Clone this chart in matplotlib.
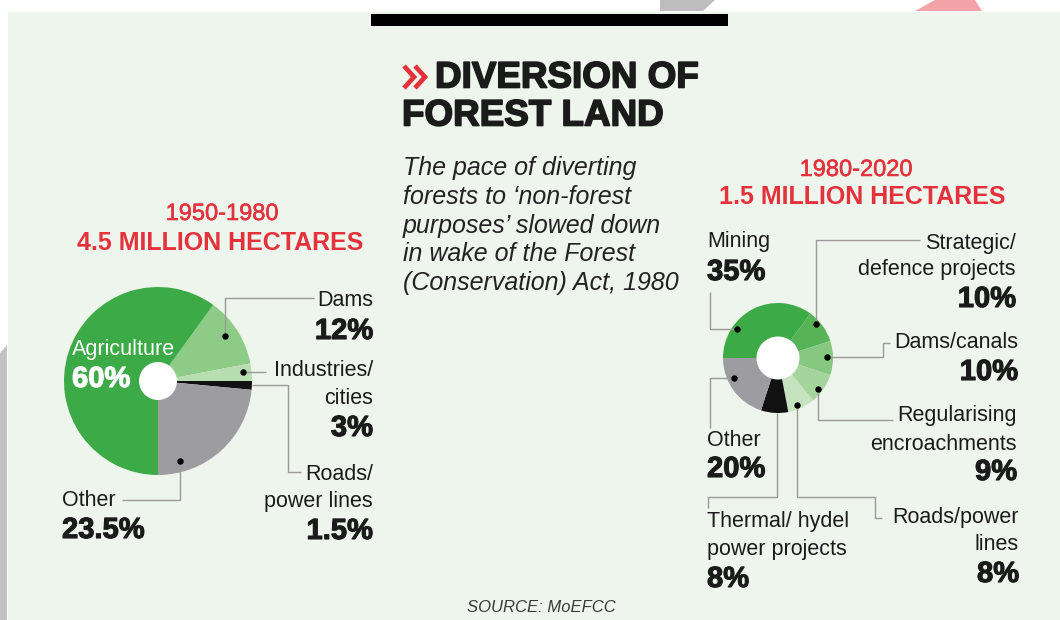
import matplotlib
matplotlib.use("Agg")
import matplotlib.pyplot as plt
from matplotlib import font_manager as fm
from matplotlib.patches import Circle, Polygon, Rectangle
import matplotlib.patheffects as pe
import numpy as np

# ---------------- data ----------------
cats1 = ["Dams", "Industries/\ncities", "Roads/\npower lines", "Other", "Agriculture"]
vals1 = [12, 3, 1.5, 23.5, 60]
pct1 = ["12%", "3%", "1.5%", "23.5%", "60%"]

cats2 = ["Mining", "Strategic/\ndefence projects", "Dams/canals", "Regularising\nencroachments",
         "Roads/power\nlines", "Thermal/ hydel\npower projects", "Other"]
vals2 = [35, 10, 10, 9, 8, 8, 20]
pct2 = ["35%", "10%", "10%", "9%", "8%", "8%", "20%"]

period1 = "1950-1980"
total1 = "4.5 MILLION HECTARES"
period2 = "1980-2020"
total2 = "1.5 MILLION HECTARES"

# ---------------- styling ----------------
names = {f.name for f in fm.fontManager.ttflist}
REG = "Liberation Sans" if "Liberation Sans" in names else "DejaVu Sans"

BG = "#eef5ec"
RED = "#e3323c"
INK = "#1b1b1b"
LINE = "#9a9a9a"
colors1 = ["#8ecb86", "#b8ddb0", "#111111", "#9d9da1", "#3daa48"]
colors2 = ["#3daa48", "#56b457", "#86c880", "#a4d59d", "#c6e3c0", "#111111", "#9d9da1"]

W, H = 1060, 620
fig = plt.figure(figsize=(W / 100, H / 100), dpi=100)
fig.patch.set_facecolor("white")
ax = fig.add_axes([0, 0, 1, 1])


def Y(y):
    return H - y


def thick(color, w=0.7):
    return [pe.withStroke(linewidth=w, foreground=color)]


# background panel + decorations
ax.add_patch(Rectangle((8, 0), W - 8, H - 12, facecolor=BG, edgecolor="none", zorder=0))
ax.add_patch(Polygon([(0, Y(353)), (7, Y(345)), (7, 0), (0, 0)], closed=True,
                     facecolor="#c2c2c2", edgecolor="none", zorder=0))
ax.add_patch(Polygon([(660, Y(0)), (715, Y(0)), (703, Y(11)), (660, Y(11))], closed=True,
                     facecolor="#bdbdbd", edgecolor="none", zorder=0))
ax.add_patch(Polygon([(935, Y(0)), (975, Y(0)), (982, Y(11)), (915, Y(11))], closed=True,
                     facecolor="#f3a3a8", edgecolor="none", zorder=0))
ax.add_patch(Rectangle((371, Y(26)), 357, 12, facecolor="black", edgecolor="none", zorder=1))

# ---------------- title ----------------
for dx in (0, 11):
    ax.plot([404 + dx, 414 + dx, 404 + dx], [Y(66), Y(77), Y(88)], color=RED, lw=3.4,
            solid_joinstyle="miter", solid_capstyle="butt", zorder=3)
ax.text(435, Y(78), "DIVERSION OF", family=REG, fontweight="bold", fontsize=26.5,
        color=INK, ha="left", va="center", path_effects=thick(INK, 1.2))
ax.text(402, Y(116), "FOREST LAND", family=REG, fontweight="bold", fontsize=26.5,
        color=INK, ha="left", va="center", path_effects=thick(INK, 1.2))

para = ["The pace of diverting", "forests to \u2018non-forest", "purposes\u2019 slowed down",
        "in wake of the Forest", "(Conservation) Act, 1980"]
for i, line in enumerate(para):
    ax.text(403, Y(168 + 28.8 * i), line, family=REG, style="italic", fontsize=18,
            color="#222222", ha="left", va="center")

ax.text(541, Y(607), "SOURCE: MoEFCC", family=REG, style="italic", fontsize=12,
        color="#3a3a3a", ha="center", va="center")

# ---------------- period headings ----------------
ax.text(222, Y(214), period1, family=REG, fontsize=17, color=RED, ha="center", va="center",
        path_effects=thick(RED, 0.4))
ax.text(220, Y(243), total1, family=REG, fontweight="bold", fontsize=18, color=RED,
        ha="center", va="center")
ax.text(856, Y(170), period2, family=REG, fontsize=17, color=RED, ha="center", va="center",
        path_effects=thick(RED, 0.4))
ax.text(862, Y(197), total2, family=REG, fontweight="bold", fontsize=18, color=RED,
        ha="center", va="center")

# ---------------- pies ----------------
C1, R1, HOLE1, START1 = (158, Y(381)), 94, 19, 54
C2, R2, HOLE2, START2 = (778, Y(358)), 55, 21.5, 180

ax.pie(vals1, colors=colors1, startangle=START1, counterclock=False, radius=R1, center=C1,
       frame=True, wedgeprops=dict(linewidth=0))
ax.add_patch(Circle(C1, HOLE1, facecolor="white", edgecolor="none", zorder=5))
ax.pie(vals2, colors=colors2, startangle=START2, counterclock=False, radius=R2, center=C2,
       frame=True, wedgeprops=dict(linewidth=0))
ax.add_patch(Circle(C2, HOLE2, facecolor="white", edgecolor="none", zorder=5))


def anchor(vals, start, center, radius, idx, frac, rfrac):
    tot = float(sum(vals))
    before = sum(vals[:idx]) / tot * 360.0
    span = vals[idx] / tot * 360.0
    ang = np.deg2rad(start - before - frac * span)
    x = center[0] + rfrac * radius * np.cos(ang)
    y = center[1] + rfrac * radius * np.sin(ang)
    return x, H - y  # image coordinates


def leader(p0, path, dot=True):
    xs, ys = [p0[0]], [p0[1]]
    for px, py in path:
        xs.append(xs[-1] if px is None else px)
        ys.append(ys[-1] if py is None else py)
    ax.plot(xs, [Y(v) for v in ys], color=LINE, lw=1.0, zorder=6, solid_capstyle="butt")
    if dot:
        ax.plot([p0[0]], [Y(p0[1])], "o", color="black", ms=3.6, zorder=7)


def label(x, ys, cat, pct, ha, name_color=INK, pct_size=21, name_size=15.5):
    lines = cat.split("\n")
    for yy, ln in zip(ys[:-1], lines):
        ax.text(x, Y(yy), ln, family=REG, fontsize=name_size, color=name_color,
                ha=ha, va="center")
    ax.text(x, Y(ys[-1]), pct, family=REG, fontweight="bold", fontsize=pct_size,
            color=name_color, ha=ha, va="center", path_effects=thick(name_color, 0.8))


# pie 1 leaders
leader(anchor(vals1, START1, C1, R1, 0, 0.46, 0.86), [(None, 298), (314, None)])
leader(anchor(vals1, START1, C1, R1, 1, 0.45, 0.91), [(266, None)])
leader(anchor(vals1, START1, C1, R1, 2, 0.5, 1.0), [(288, None), (None, 472), (301, None)],
       dot=False)
leader(anchor(vals1, START1, C1, R1, 3, 0.82, 0.88), [(None, 500), (122, None)])

label(373, [301, 331], cats1[0], pct1[0], "right")
label(373, [371, 398, 428], cats1[1], pct1[1], "right")
label(373, [475, 501, 531], cats1[2], pct1[2], "right")
label(62, [501, 530], cats1[3], pct1[3], "left")
label(72, [349, 379], cats1[4], pct1[4], "left", name_color="white")

# pie 2 leaders
leader(anchor(vals2, START2, C2, R2, 0, 0.28, 0.92), [(710, None), (None, 292)])
leader(anchor(vals2, START2, C2, R2, 1, 0.33, 0.92), [(None, 240), (920, None)])
leader(anchor(vals2, START2, C2, R2, 2, 0.47, 0.9), [(883, None), (None, 343), (890, None)])
leader(anchor(vals2, START2, C2, R2, 3, 0.62, 0.92), [(None, 420), (893, None)])
leader(anchor(vals2, START2, C2, R2, 4, 0.6, 0.92), [(None, 497), (875, None), (None, 518),
                                                      (882, None)])
leader(anchor(vals2, START2, C2, R2, 5, 0.4, 1.0), [(None, 497), (708, None), (None, 508)],
       dot=False)
leader(anchor(vals2, START2, C2, R2, 6, 0.67, 0.88), [(710, None), (None, 428)])

label(707, [242, 272], cats2[0], pct2[0], "left")
label(1016, [243, 269, 299], cats2[1], pct2[1], "right")
label(1018, [342, 372], cats2[2], pct2[2], "right")
label(1017, [416, 444, 472], cats2[3], pct2[3], "right")
label(1019, [518, 544, 574], cats2[4], pct2[4], "right")
label(707, [522, 550, 579], cats2[5], pct2[5], "left")
label(707, [441, 469], cats2[6], pct2[6], "left")

ax.set_xlim(0, W)
ax.set_ylim(0, H)
ax.set_aspect("auto")
ax.axis("off")
fig.savefig("out.png", dpi=100, facecolor="white")
